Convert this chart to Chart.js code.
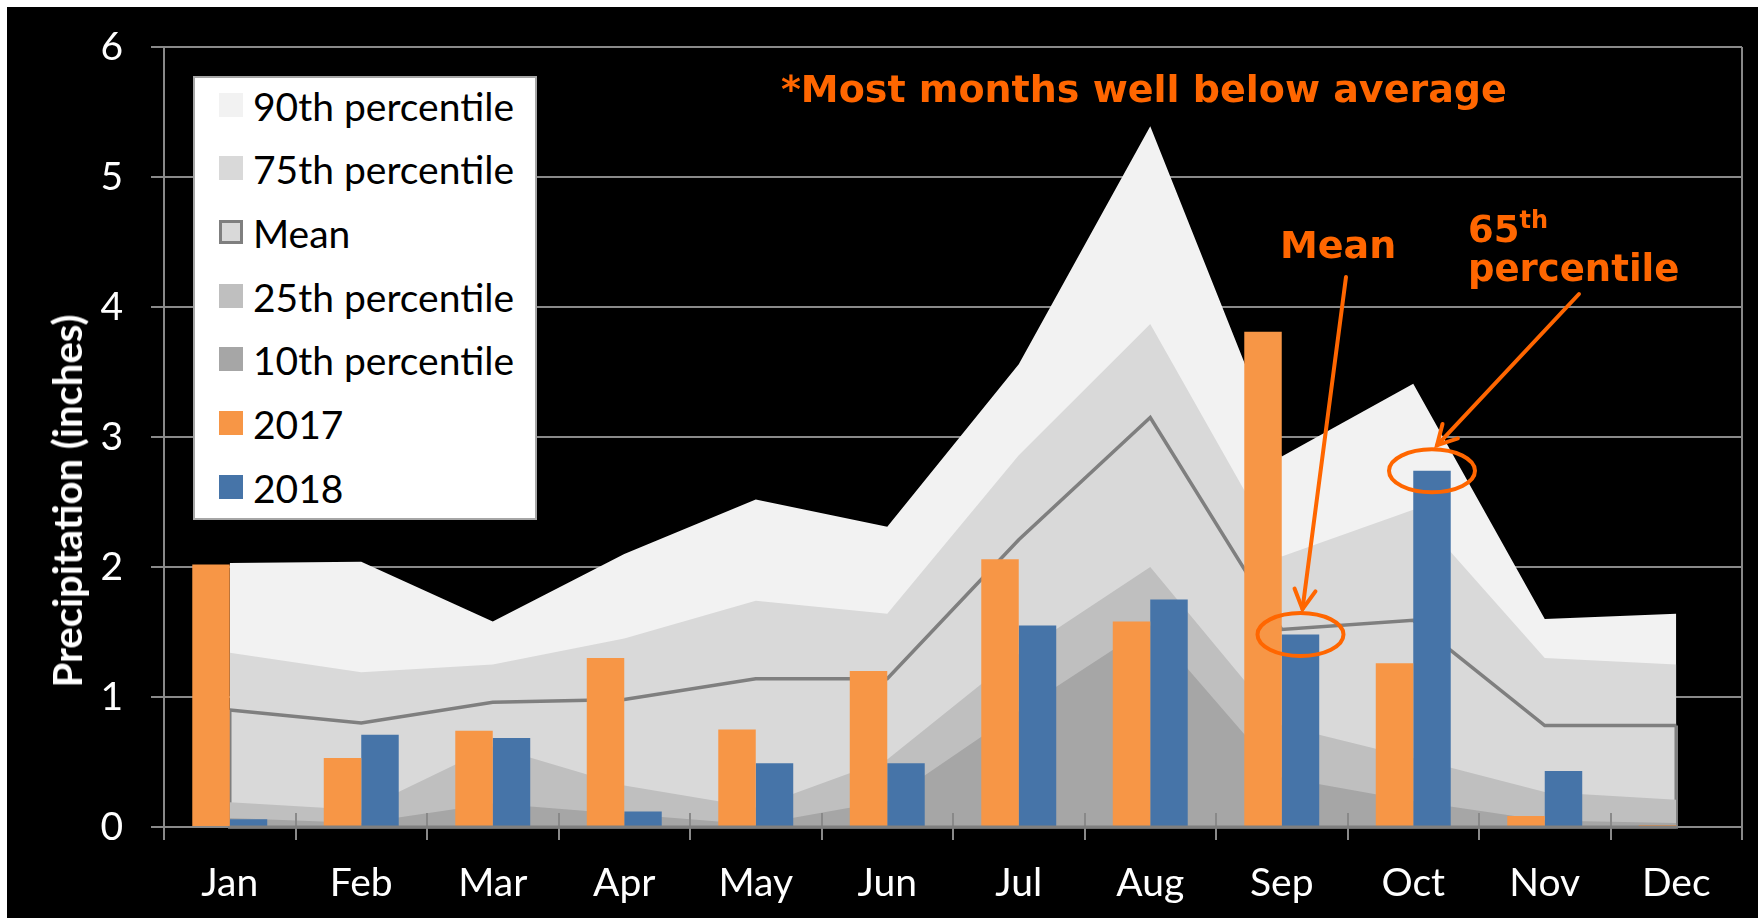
<!DOCTYPE html>
<html>
<head>
<meta charset="utf-8">
<script src="https://cdn.jsdelivr.net/npm/chart.js@4.4.1/dist/chart.umd.min.js"></script>
<style>
  html, body { margin: 0; padding: 0; background: #fff; }
  #wrap { position: relative; width: 1758px; height: 919px; overflow: hidden; }
  #chart { position: absolute; left: 0; top: 0; }
  .note { position: absolute; font-family: 'DejaVu Sans'; font-weight: bold; color: #ff6600; line-height: 1; white-space: nowrap; }
  #legend { position: absolute; left: 193px; top: 76px; width: 344px; height: 444px; background: #fff; border: 2px solid #a6a6a6; box-sizing: border-box; }
  .row { position: absolute; left: 0; height: 40px; line-height: 40px; font: 39px Lato; color: #000; white-space: nowrap; }
  .sw { position: absolute; left: 24px; top: 10px; width: 24px; height: 24px; box-sizing: border-box; }
  .txt { position: absolute; left: 58px; top: 0; }
  #ytitle { position: absolute; left: 67px; top: 501px; transform: translate(-50%, -50%) rotate(-90deg); font: bold 40px Lato; color: #fff; white-space: nowrap; }
</style>
</head>
<body>
<div id="wrap">
  <canvas id="chart" width="1758" height="919"></canvas>
  <div id="legend"></div>
  <div id="ytitle">Precipitation (inches)</div>
  <div class="note" style="left:781px; top:70px; font-size:38px;">*Most months well below average</div>
  <div class="note" style="left:1280px; top:226px; font-size:38px;">Mean</div>
  <div class="note" style="left:1468px; top:208px; font-size:37px;">65<sup style="font-size:24px; vertical-align:14px;">th</sup></div>
  <div class="note" style="left:1468px; top:250px; font-size:37px;">percentile</div>
</div>
<script>
// 月份与各序列（英寸）
const months = ['Jan','Feb','Mar','Apr','May','Jun','Jul','Aug','Sep','Oct','Nov','Dec'];
const p90  = [2.03, 2.04, 1.58, 2.10, 2.52, 2.31, 3.56, 5.39, 2.85, 3.41, 1.60, 1.64];
const p75  = [1.34, 1.19, 1.25, 1.45, 1.74, 1.64, 2.86, 3.87, 2.08, 2.44, 1.30, 1.25];
const mean = [0.90, 0.80, 0.96, 0.98, 1.14, 1.14, 2.21, 3.15, 1.52, 1.59, 0.78, 0.78];
const p25  = [0.19, 0.13, 0.62, 0.32, 0.15, 0.52, 1.33, 2.00, 0.78, 0.53, 0.27, 0.21];
const p10  = [0.07, 0.03, 0.18, 0.10, 0.02, 0.20, 0.89, 1.55, 0.38, 0.20, 0.05, 0.03];
const y2017 = [2.02, 0.53, 0.74, 1.30, 0.75, 1.20, 2.06, 1.58, 3.81, 1.26, 0.085, 0.015];
const y2018 = [0.06, 0.71, 0.685, 0.12, 0.49, 0.49, 1.55, 1.75, 1.48, 2.74, 0.43, 0];
const yTicks = [0, 1, 2, 3, 4, 5, 6];

const ORANGE = '#ff6600';
const GRID = '#898989';

function area(label, data, color, order) {
  return { type: 'line', label, data, backgroundColor: color, borderColor: color, borderWidth: 0,
           fill: 'origin', pointRadius: 0, tension: 0, order };
}

const datasets = [
  area('90th percentile', p90, '#f2f2f2', 5),
  area('75th percentile', p75, '#d9d9d9', 4),
  Object.assign(area('Mean', mean, '#d9d9d9', 3), { borderColor: '#7f7f7f', borderWidth: 3.5 }),
  area('25th percentile', p25, '#bfbfbf', 2),
  area('10th percentile', p10, '#a6a6a6', 1),
  { type: 'bar', label: '2017', data: y2017, backgroundColor: '#f79646', borderWidth: 0, order: 0,
    categoryPercentage: 0.57, barPercentage: 1 },
  { type: 'bar', label: '2018', data: y2018, backgroundColor: '#4674a8', borderWidth: 0, order: 0,
    categoryPercentage: 0.57, barPercentage: 1 }
];
const MEAN_IDX = 2, IDX2018 = 6;

// 圈出的柱子 + 箭头起点
const callouts = [
  { month: 8, start: [1346, 277], tipDx: 2 },
  { month: 9, start: [1579, 294], tipDx: 5 }
];

const bgPlugin = {
  id: 'bg',
  beforeDraw(chart) {
    const c = chart.ctx;
    c.save();
    c.fillStyle = '#fff'; c.fillRect(0, 0, chart.width, chart.height);
    c.fillStyle = '#000'; c.fillRect(7, 7, chart.width - 7, chart.height - 8);
    c.restore();
  },
  // 均值面积的左右竖边和底边
  afterDatasetDraw(chart, args) {
    if (args.index !== MEAN_IDX) return;
    const pts = chart.getDatasetMeta(MEAN_IDX).data;
    const y0 = chart.scales.y.getPixelForValue(0);
    const c = chart.ctx;
    c.save();
    c.strokeStyle = '#7f7f7f'; c.lineWidth = 3.5;
    c.beginPath();
    c.moveTo(pts[0].x, pts[0].y); c.lineTo(pts[0].x, y0);
    c.lineTo(pts[pts.length - 1].x, y0); c.lineTo(pts[pts.length - 1].x, pts[pts.length - 1].y);
    c.stroke();
    c.restore();
  },
  afterDatasetsDraw(chart) {
    const c = chart.ctx, xs = chart.scales.x, ys = chart.scales.y, a = chart.chartArea;
    const y0 = ys.getPixelForValue(0);
    c.save();
    // 右边框
    c.strokeStyle = GRID; c.lineWidth = 2;
    c.beginPath(); c.moveTo(a.right, a.top); c.lineTo(a.right, a.bottom); c.stroke();
    // 类别分隔刻度（向上部分）
    const cw = xs.width / months.length;
    c.beginPath();
    for (let i = 1; i < months.length; i++) {
      const x = Math.round(xs.getPixelForTick(i) - cw / 2);
      c.moveTo(x, y0 - 14); c.lineTo(x, y0);
    }
    c.stroke();
    // 底线
    const pts = chart.getDatasetMeta(MEAN_IDX).data;
    c.strokeStyle = '#7f7f7f'; c.lineWidth = 3;
    c.beginPath(); c.moveTo(pts[0].x, y0); c.lineTo(pts[pts.length - 1].x, y0); c.stroke();

    // 橙色圈 + 箭头
    const bars = chart.getDatasetMeta(IDX2018).data;
    const rx = 43, ry = 21.5;
    c.strokeStyle = ORANGE; c.lineWidth = 4; c.lineCap = 'round';
    callouts.forEach(co => {
      const b = bars[co.month];
      c.beginPath(); c.ellipse(b.x, b.y, rx, ry, 0, 0, Math.PI * 2); c.stroke();
      const tx = b.x + co.tipDx, ty = b.y - ry - 4;
      const [sx, sy] = co.start;
      c.beginPath(); c.moveTo(sx, sy); c.lineTo(tx, ty); c.stroke();
      const ang = Math.atan2(sy - ty, sx - tx), L = 22, w = 0.5;
      c.beginPath();
      c.moveTo(tx + L * Math.cos(ang - w), ty + L * Math.sin(ang - w));
      c.lineTo(tx, ty);
      c.lineTo(tx + L * Math.cos(ang + w), ty + L * Math.sin(ang + w));
      c.stroke();
    });
    c.restore();
  }
};

// 去掉刻度文字带来的额外边距，绘图区由 layout.padding 决定
function noPad(s) { s.paddingTop = 0; s.paddingBottom = 0; s.paddingLeft = 0; s.paddingRight = 0; }

Chart.defaults.font.family = 'Lato';
const chart = new Chart(document.getElementById('chart').getContext('2d'), {
  type: 'bar',
  data: { labels: months, datasets },
  options: {
    responsive: false, animation: false,
    layout: { padding: { left: 7, top: 47, right: 16, bottom: 0 } },
    plugins: { legend: { display: false }, tooltip: { enabled: false } },
    scales: {
      x: {
        offset: true,
        afterFit(s) { s.height = 92; noPad(s); },
        grid: { offset: true, drawOnChartArea: false, tickLength: 13, color: GRID, lineWidth: 2 },
        border: { color: GRID, width: 2 },
        ticks: { color: '#fff', font: { size: 39 }, padding: 20, maxRotation: 0, autoSkip: false }
      },
      y: {
        min: 0, max: 6,
        afterFit(s) { s.width = 157; noPad(s); },
        afterBuildTicks(s) { s.ticks = yTicks.map(v => ({ value: v })); },
        grid: { color: GRID, lineWidth: 2, tickLength: 13 },
        border: { color: GRID, width: 2 },
        ticks: { color: '#fff', font: { size: 39 }, padding: 28 }
      }
    }
  },
  plugins: [bgPlugin]
});

// 图例（由数据集生成）
const lg = document.getElementById('legend');
datasets.forEach((d, i) => {
  const row = document.createElement('div');
  row.className = 'row';
  row.style.top = (4.5 + i * 63.7) + 'px';
  const sw = document.createElement('div');
  sw.className = 'sw';
  sw.style.background = d.backgroundColor;
  if (i === MEAN_IDX) sw.style.border = '3px solid #7f7f7f';
  const t = document.createElement('div');
  t.className = 'txt';
  t.textContent = d.label;
  row.appendChild(sw); row.appendChild(t);
  lg.appendChild(row);
});
</script>
</body>
</html>
